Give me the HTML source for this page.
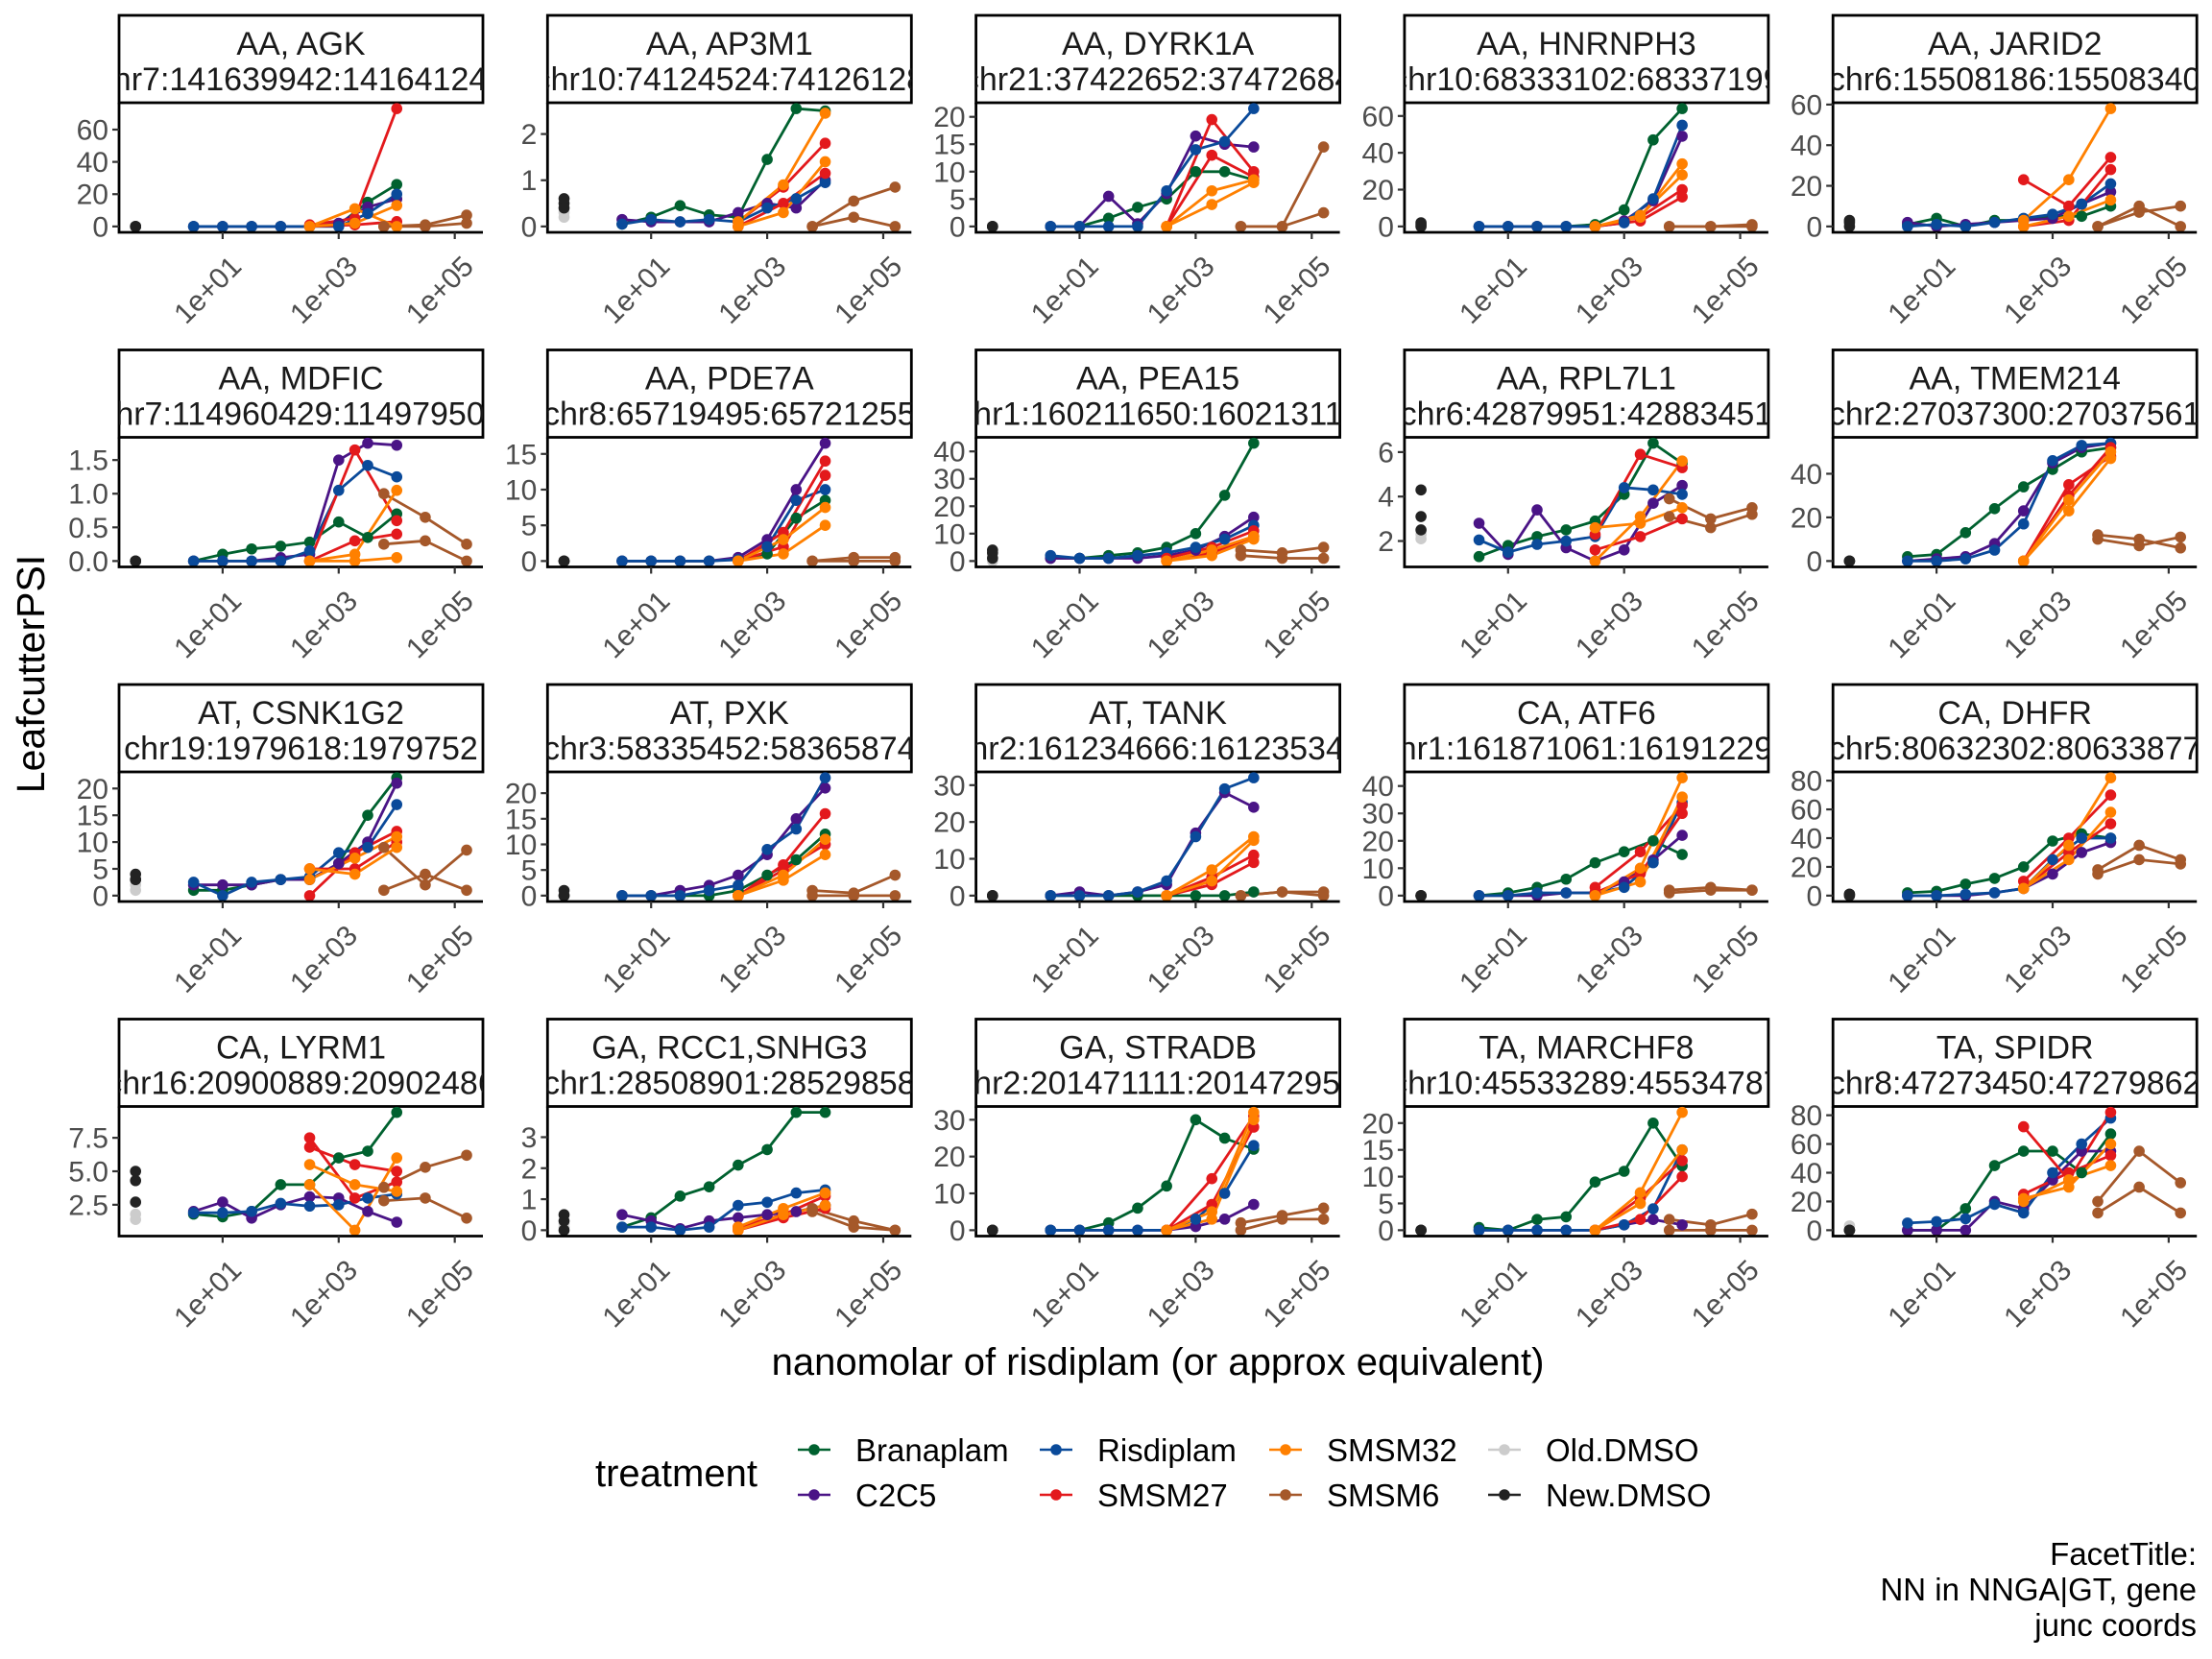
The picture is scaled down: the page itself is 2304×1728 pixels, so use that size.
<!DOCTYPE html>
<html><head><meta charset="utf-8"><style>
html,body{margin:0;padding:0;background:#fff}
svg{display:block}
text{font-family:"Liberation Sans",Arial,sans-serif}
</style></head><body>
<svg id="chart" xmlns="http://www.w3.org/2000/svg" width="2304" height="1728" viewBox="0 0 2304 1728">
<rect width="2304" height="1728" fill="#fff"/>
<g id="panels"></g>
<text transform="translate(46,702) rotate(-90)" text-anchor="middle" font-size="41" fill="#000">LeafcutterPSI</text>
<text x="1206" y="1432" text-anchor="middle" font-size="40" fill="#000">nanomolar of risdiplam (or approx equivalent)</text>
<g id="legend">
<text x="620" y="1548" font-size="40" fill="#000">treatment</text>
</g>
<g font-size="33" fill="#000" text-anchor="end">
<text x="2288" y="1630">FacetTitle:</text>
<text x="2288" y="1667">NN in NNGA|GT, gene</text>
<text x="2288" y="1704">junc coords</text>
</g>
</svg>
<script>
const treatments = ["Branaplam","C2C5","Risdiplam","SMSM27","SMSM32","SMSM6","Old.DMSO","New.DMSO"];
const colors = {"Branaplam":"#00612f","C2C5":"#4a1486","Risdiplam":"#0a4a9a","SMSM27":"#e3191c","SMSM32":"#ff8000","SMSM6":"#a5582a","Old.DMSO":"#cccccc","New.DMSO":"#222222"};
const doseMain = [3.16,10,31.6,100,316,1000,3162,10000];
const doseSMSM = [316,1900,10000];
const doseS6 = [6000,31000,160000];
const doseDMSO = 0.316;
const facetTitles = ["AA, AGK","AA, AP3M1","AA, DYRK1A","AA, HNRNPH3","AA, JARID2","AA, MDFIC","AA, PDE7A","AA, PEA15","AA, RPL7L1","AA, TMEM214","AT, CSNK1G2","AT, PXK","AT, TANK","CA, ATF6","CA, DHFR","CA, LYRM1","GA, RCC1,SNHG3","GA, STRADB","TA, MARCHF8","TA, SPIDR"];
const facetCoords = ["chr7:141639942:141641245","chr10:74124524:74126128","chr21:37422652:37472684","chr10:68333102:68337199","chr6:15508186:15508340","chr7:114960429:114979502","chr8:65719495:65721255","chr1:160211650:160213111","chr6:42879951:42883451","chr2:27037300:27037561","chr19:1979618:1979752","chr3:58335452:58365874","chr2:161234666:161235345","chr1:161871061:161912292","chr5:80632302:80633877","chr16:20900889:20902486","chr1:28508901:28529858","chr2:201471111:201472956","chr10:45533289:45534787","chr8:47273450:47279862"];
const yTicks = [[0,20,40,60],[0,1,2],[0,5,10,15,20],[0,20,40,60],[0,20,40,60],[0,0.5,1,1.5],[0,5,10,15],[0,10,20,30,40],[2,4,6],[0,20,40],[0,5,10,15,20],[0,5,10,15,20],[0,10,20,30],[0,10,20,30,40],[0,20,40,60,80],[2.5,5,7.5],[0,1,2,3],[0,10,20,30],[0,5,10,15,20],[0,20,40,60,80]];
const yTickLabels = [["0","20","40","60"],["0","1","2"],["0","5","10","15","20"],["0","20","40","60"],["0","20","40","60"],["0.0","0.5","1.0","1.5"],["0","5","10","15"],["0","10","20","30","40"],["2","4","6"],["0","20","40"],["0","5","10","15","20"],["0","5","10","15","20"],["0","10","20","30"],["0","10","20","30","40"],["0","20","40","60","80"],["2.5","5.0","7.5"],["0","1","2","3"],["0","10","20","30"],["0","5","10","15","20"],["0","20","40","60","80"]];
const xTicks = [10,1000,100000];
const xTickLabels = ["1e+01","1e+03","1e+05"];
const branaplam = [[0,0,0,0,0,1,15,26],[0.05,0.2,0.45,0.25,0.2,1.45,2.55,2.5],[0,0,1.5,3.5,5,10,10,8.5],[0,0,0,0,1,9,47,64],[1,4,0,3,3,5,5,10],[0,0.1,0.18,0.22,0.28,0.58,0.35,0.7],[0,0,0,0,0.3,1,6,8.5],[1,1,2,3,5,10,24,43],[1.3,1.8,2.2,2.5,2.9,4.1,6.4,5.5],[2,3,13,24,34,42,50,52],[1,1,2,3,3,6,15,22],[0,0,0,0,1,4,7,12],[0,0,0,0,0,0,0,1],[0,1,3,6,12,16,20,15],[2,3,8,12,20,38,43,40],[1.8,1.6,2.0,4.0,4.0,6.0,6.5,9.4],[0.1,0.4,1.1,1.4,2.1,2.6,3.8,3.8],[0,0,2,6,12,30,25,22],[0.5,0,2,2.5,9,11,20,12],[0,0,15,45,55,55,40,67]];
const c2c5 = [[0,0,0,0,0,2,12,17],[0.15,0.1,0.1,0.1,0.3,0.5,0.4,1.0],[0,0,5.5,0.5,6,16.5,15,14.5],[0,0,0,0,0,3,14,49],[2,0,1,2,3,4,11,17],[0,0,0,0.05,0.1,1.5,1.75,1.72],[0,0,0,0,0.5,3,10,16.5],[1,1,1,1,2,4,9,16],[2.8,1.4,3.4,1.7,1.1,1.6,3.7,4.5],[0,1,2,8,23,45,52,54],[2,2,2,3,3,6,10,21],[0,0,1,2,4,8,15,21],[0,1,0,1,3,17,28,24],[0,0,0,1,1,5,13,22],[0,0,0,2,5,15,30,37],[2.0,2.7,1.5,2.5,3.1,3.0,2.0,1.2],[0.5,0.3,0.05,0.3,0.4,0.5,0.6,0.8],[0,0,0,0,0,1,3,7],[0,0,0,0,0,1,2,1],[0,0,0,20,15,35,55,55]];
const risdiplam = [[0,0,0,0,0,0,8,20],[0.05,0.15,0.1,0.15,0.1,0.4,0.6,0.95],[0,0,0,0,6.5,14,15.5,21.5],[0,0,0,0,0,2,15,55],[0,1,0,2,4,6,11,21],[0,0,0,0,0.15,1.05,1.42,1.25],[0,0,0,0,0.2,2,8.5,10],[2,1,1,2,3,5,8,13],[2.05,1.5,1.85,2.0,2.2,4.4,4.3,4.1],[0,0,1,5,17,46,53,54],[2.5,0,2.5,3,3.5,8,9,17],[0,0,0,1,2,9,13,23],[0,0,0,1,4,16,29,32],[0,0,1,1,1,3,12,34],[0,0,1,2,5,25,40,40],[1.9,1.9,2.0,2.6,2.4,2.5,3.0,3.3],[0.1,0.1,0,0.1,0.8,0.9,1.2,1.3],[0,0,0,0,0,3,10,23],[0,0,0,0,0,1,4,15],[5,6,8,18,12,40,60,78]];
const smsm27a = [[1,5,73],[0.1,0.85,1.8],[0,19.5,10],[0,5,20],[23,10,34],[0,1.65,0.6],[0,4,14],[1,5,11],[2.3,5.9,5.3],[0,35,48],[0,8,12],[0,6,16],[0,5,11],[3,16,33],[10,40,70],[7.5,3.0,4.2],[0.1,0.5,1.1],[0,14,31],[0,6,13],[72,35,82]];
const smsm27b = [[0,1,3],[0,0.5,1.15],[0,13,9],[0,3,16],[0,3,28],[0,0.3,0.4],[0,2,12],[0,3,9],[1.6,2.2,3.0],[0,30,52],[5,5,10],[0,5,10],[0,3,9],[1,8,30],[5,30,50],[6.8,5.5,5.0],[0,0.4,0.7],[0,7,28],[0,2,10],[25,40,52]];
const smsm32a = [[0,11,0],[0.1,0.9,2.45],[0,6.5,8.5],[0,5,34],[3,23,58],[0,0.1,1.05],[0,3,7.5],[0,4,9],[1.1,3.1,5.6],[0,23,47],[3,7,11],[0,4,11],[0,7,16],[0,10,43],[5,35,82],[4.0,0.6,6.0],[0.1,0.7,1.2],[0,5,32],[0,7,22],[22,30,60]];
const smsm32b = [[0,2,13],[0,0.3,1.4],[0,4,8],[0,6,28],[0,5,13],[0,0,0.05],[0,1,5],[0,2,8],[2.6,2.8,3.5],[0,28,50],[5,4,9],[0,3,8],[0,4,15],[0,5,36],[5,25,58],[5.5,4.0,3.5],[0,0.5,0.8],[0,3,30],[0,5,15],[20,35,45]];
const smsm6a = [[0,1,7],[0,0.55,0.85],[0,0,14.5],[0,0,0],[0,7,10],[1.0,0.65,0.25],[0,0.5,0.5],[4,3,5],[3.9,3.0,3.5],[10,7,11],[9,2,8.5],[1,0.5,4],[0,1,1],[2,3,2],[18,35,25],[3.8,5.3,6.2],[0.6,0.1,0],[2,4,6],[2,1,3],[20,55,33]];
const smsm6b = [[0,0,2],[0,0.2,0],[0,0,2.5],[0,0,1],[0,10,0],[0.25,0.3,0],[0,0,0],[2,1,1],[3.1,2.6,3.2],[12,10,6],[1,4,1],[0,0,0],[0,1,0],[1,2,2],[15,25,22],[2.8,3.0,1.5],[0.7,0.3,0],[0,3,3],[0,0,0],[12,30,12]];
const newDmso = [[0,0,0],[0.5,0.6,0.4],[0,0,0],[1,0,2],[0,2,3],[0,0,0],[0,0,0],[1,3,4],[4.3,3.1,2.5],[0,0,0],[3,3,4],[0,1,0],[0,0,0],[0,0,0],[1,1,0],[5.0,4.3,2.7],[0.5,0.3,0],[0,0,0],[0,0,0],[0,0,0]];
const oldDmso = [[0,0],[0.2,0.3],[0,0],[0,0],[1,0],[0,0],[0,0],[0,2],[2.1,2.3],[0,0],[1,2],[0,0],[0,0],[0,0],[0,0],[1.8,1.4],[0.1,0.2],[0,0],[0,0],[3,0]];

const NS = "http://www.w3.org/2000/svg";
function mk(tag, attrs, parent){const e=document.createElementNS(NS,tag);for(const k in attrs)e.setAttribute(k,attrs[k]);if(parent)parent.appendChild(e);return e;}
const panelsG = document.getElementById('panels');
const PW = 379, PH = 135, COLX = 446.3, ROWY = 348.5;
const XMIN = -0.785, XMAX = 5.485;
function xScale(v, left){return left + (Math.log10(v) - XMIN) / (XMAX - XMIN) * PW;}

for (let p = 0; p < 20; p++) {
  const col = p % 5, row = Math.floor(p / 5);
  const left = 124 + col * COLX, stripTop = 16 + row * ROWY, top = 107 + row * ROWY, bottom = top + PH;
  const g = mk('g', {}, panelsG);
  
  
  const series = [
    ['Branaplam', doseMain, branaplam[p]], ['C2C5', doseMain, c2c5[p]], ['Risdiplam', doseMain, risdiplam[p]],
    ['SMSM6', doseS6, smsm6a[p]], ['SMSM6', doseS6, smsm6b[p]],
    ['SMSM27', doseSMSM, smsm27a[p]], ['SMSM27', doseSMSM, smsm27b[p]],
    ['SMSM32', doseSMSM, smsm32a[p]], ['SMSM32', doseSMSM, smsm32b[p]]
  ];
  let all = [];
  series.forEach(s => all = all.concat(s[2]));
  all = all.concat(newDmso[p], oldDmso[p]);
  let ymin = Math.min(...all), ymax = Math.max(...all);
  const pad = (ymax - ymin) * 0.05; ymin -= pad; ymax += pad;
  const yScale = v => bottom - (v - ymin) / (ymax - ymin) * PH;
  const clipId = 'clip' + p;
  const cp = mk('clipPath', {id: clipId}, g);
  mk('rect', {x: left, y: stripTop, width: PW, height: top - stripTop}, cp);
  const strip = mk('rect', {x: left, y: stripTop, width: PW, height: top - stripTop, fill: '#fff', stroke: '#000', 'stroke-width': 2.8}, g);
  
  
  const st = mk('g', {'clip-path': 'url(#' + clipId + ')', 'font-size': 34, fill: '#1a1a1a', 'text-anchor': 'middle'}, g);
  const t1 = mk('text', {x: left + PW / 2, y: stripTop + 41}, st); t1.textContent = facetTitles[p];
  
  
  const t2 = mk('text', {x: left + PW / 2, y: stripTop + 78}, st); t2.textContent = facetCoords[p];
  
  
  const pc = mk('clipPath', {id: 'pc' + p}, g);
  mk('rect', {x: left - 8, y: top - 8, width: PW + 16, height: PH + 16}, pc);
  const dg = mk('g', {'clip-path': 'url(#pc' + p + ')'}, g);
  series.forEach(s => {
    const [name, xs, ys] = s;
    const pts = xs.map((x, i) => xScale(x, left).toFixed(1) + ',' + yScale(ys[i]).toFixed(1)).join(' ');
    const ln = mk('polyline', {points: pts, fill: 'none', stroke: colors[name], 'stroke-width': 2.8}, dg);
    
    
  });
  series.forEach(s => {
    const [name, xs, ys] = s;
    xs.forEach((x, i) => {
      const c = mk('circle', {cx: xScale(x, left), cy: yScale(ys[i]), r: 5.8, fill: colors[name]}, dg);
      
      
    });
  });
  oldDmso[p].forEach(v => {
    const c = mk('circle', {cx: xScale(doseDMSO, left), cy: yScale(v), r: 5.8, fill: colors['Old.DMSO']}, dg);
    
    
  });
  newDmso[p].forEach(v => {
    const c = mk('circle', {cx: xScale(doseDMSO, left), cy: yScale(v), r: 5.8, fill: colors['New.DMSO']}, dg);
    
    
  });
  const ax = mk('path', {d: 'M' + left + ',' + top + 'V' + bottom + 'H' + (left + PW), fill: 'none', stroke: '#000', 'stroke-width': 2.8}, g);
  
  
  yTicks[p].forEach((v, i) => {
    const y = yScale(v);
    mk('line', {x1: left - 7, x2: left, y1: y, y2: y, stroke: '#333', 'stroke-width': 2.2}, g);
    const tl = mk('text', {x: left - 11, y: y + 10.5, 'text-anchor': 'end', 'font-size': 30, fill: '#4d4d4d'}, g);
    tl.textContent = yTickLabels[p][i];
    
    
  });
  xTicks.forEach((v, i) => {
    const x = xScale(v, left);
    mk('line', {x1: x, x2: x, y1: bottom, y2: bottom + 7, stroke: '#333', 'stroke-width': 2.2}, g);
    const tl = mk('text', {'text-anchor': 'end', 'font-size': 30, fill: '#4d4d4d', transform: 'translate(' + (x + 6) + ',' + (bottom + 22) + ') rotate(-45)', dy: '0.72em'}, g);
    tl.textContent = xTickLabels[i];
    
    
  });
}

const legendG = document.getElementById('legend');
const legendOrder = ["Branaplam","C2C5","Risdiplam","SMSM27","SMSM32","SMSM6","Old.DMSO","New.DMSO"];
const legKeyX = [848,1100,1339,1567];
const legRowY = [1510,1557];
legendOrder.forEach((name, i) => {
  const col = Math.floor(i / 2), row = i % 2;
  const kx = legKeyX[col], ky = legRowY[row];
  const g = mk('g', {}, legendG);
  
  
  mk('line', {x1: kx - 17, x2: kx + 17, y1: ky, y2: ky, stroke: colors[name], 'stroke-width': 2.6}, g);
  mk('circle', {cx: kx, cy: ky, r: 5.8, fill: colors[name]}, g);
  const t = mk('text', {x: kx + 43, y: ky + 12, 'font-size': 33, fill: '#000'}, g);
  t.textContent = name;
});
</script>
</body></html>
